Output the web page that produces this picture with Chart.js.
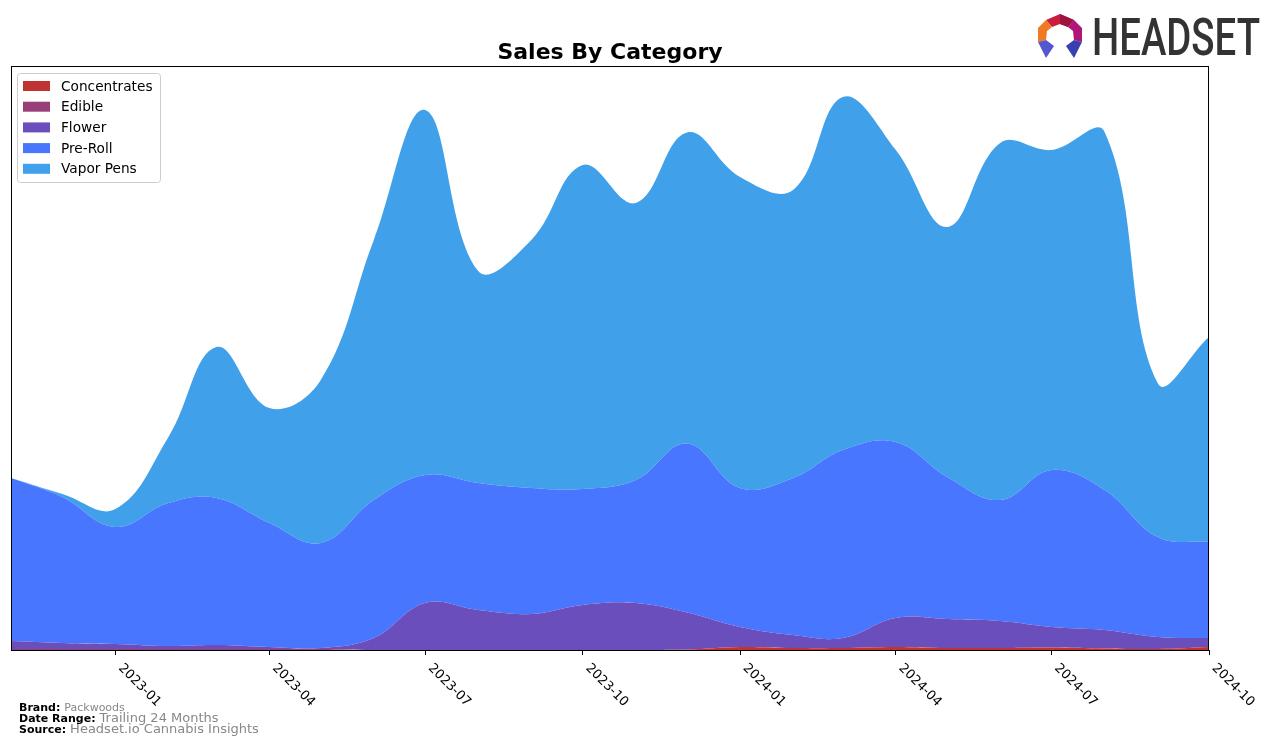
<!DOCTYPE html>
<html>
<head>
<meta charset="utf-8">
<script src="https://cdn.jsdelivr.net/npm/chart.js@4/dist/chart.umd.min.js"></script>
<style>
html,body{margin:0;padding:0;background:#fff;}
#wrap{width:1276px;height:746px;position:relative;}
</style>
</head>
<body>
<div id="wrap"><canvas id="c" width="1276" height="746"></canvas></div>
<script>
// ---- data (monthly, arbitrary sales units) ----
const months = ['2022-11','2022-12','2023-01','2023-02','2023-03','2023-04','2023-05','2023-06','2023-07','2023-08','2023-09','2023-10','2023-11','2023-12','2024-01','2024-02','2024-03','2024-04','2024-05','2024-06','2024-07','2024-08','2024-09','2024-10'];
const concentrates = [0,0,0,0,0,0,0,0,0,0,0,0,0,0.5,3,2,2,3,2,2,2.5,1.5,1,3];
const edible = [1,1,1,1,1,1,1,0,0,0,0,0,0,0,0,0,0,0,0,0,0,0,0,0];
const flower = [8,6,5,3,4,2,1,12,47,40,36,45,47,37,20,13,10,29,29,27,20.5,18.5,12,9];
const preRoll = [163,146,117,143,147,124,105,138,128,127,126,116,123,169,139,157,188,176,142,121,157,140,100,96];
const vaporPens = [0,3,18,66,151,115,163,260,365,212,248,324,277,311,311,288,353,292,250,357,320,358,154,205];
const tickLabels = ['2023-01','2023-04','2023-07','2023-10','2024-01','2024-04','2024-07','2024-10'];
const seriesNames = ['Concentrates','Edible','Flower','Pre-Roll','Vapor Pens'];
const seriesColors = ['#C13232','#983E78','#6A4EBC','#4876FF','#40A0EA'];

const dayOf = s => { const [y,m] = s.split('-').map(Number); return (Date.UTC(y,m-1,1) - Date.UTC(2022,10,1)) / 86400000; };
const seriesValues = [concentrates, edible, flower, preRoll, vaporPens];

const datasets = seriesNames.map((name,i)=>({
  label: name,
  data: months.map((m,j)=>({x: dayOf(m), y: seriesValues[i][j]})),
  backgroundColor: seriesColors[i],
  borderColor: seriesColors[i],
  borderWidth: 0,
  pointRadius: 0,
  tension: 0.4,
  fill: i === 0 ? 'origin' : '-1'
}));

const FONT = "'DejaVu Sans', sans-serif";

const decor = {
  id: 'decor',
  afterDatasetsDraw(chart){
    const {ctx, chartArea:a} = chart;
    ctx.save();
    ctx.strokeStyle = '#000'; ctx.lineWidth = 1;
    ctx.strokeRect(a.left+0.5, a.top+0.5, a.right-a.left-1, a.bottom-a.top);
    ctx.restore();
  },
  afterDraw(chart){
    const {ctx, chartArea:a, scales} = chart;
    ctx.save();
    // title
    ctx.fillStyle = '#000';
    ctx.font = "bold 22px " + FONT;
    ctx.textAlign = 'center'; ctx.textBaseline = 'alphabetic';
    ctx.fillText('Sales By Category', (a.left+a.right)/2, 59);
    // tick labels rotated
    ctx.font = "13px " + FONT;
    ctx.textAlign = 'left'; ctx.textBaseline = 'top';
    tickLabels.forEach(t=>{
      const x = scales.x.getPixelForValue(dayOf(t));
      ctx.save();
      ctx.translate(x+6, a.bottom+15);
      ctx.rotate(Math.PI/4);
      ctx.fillText(t, 0, -5);
      ctx.restore();
    });
    // legend
    const lx = 17, ly = 73, lw = 143, lh = 109;
    ctx.fillStyle = 'rgba(255,255,255,0.8)';
    ctx.strokeStyle = '#cccccc';
    ctx.beginPath();
    ctx.roundRect(lx+0.5, ly+0.5, lw, lh, 3);
    ctx.fill(); ctx.stroke();
    ctx.font = "13.7px " + FONT;
    ctx.textBaseline = 'middle';
    chart.data.datasets.forEach((d,i)=>{
      const cy = 86 + i*20.7;
      ctx.fillStyle = d.backgroundColor;
      ctx.fillRect(23, cy-5, 27, 10);
      ctx.fillStyle = '#000';
      ctx.fillText(d.label, 61, cy+1);
    });
    // footer
    ctx.textBaseline = 'alphabetic';
    const foot = [['Brand:', 'Packwoods', 711, 11],['Date Range:', 'Trailing 24 Months', 722, 13],['Source:', 'Headset.io Cannabis Insights', 733, 13]];
    foot.forEach(([k,v,y,s])=>{
      ctx.font = "bold 11px " + FONT;
      ctx.fillStyle = '#000';
      ctx.fillText(k, 19, y);
      const w = ctx.measureText(k).width;
      ctx.font = s + "px " + FONT;
      ctx.fillStyle = '#888';
      ctx.fillText(v, 19 + w + 4, y);
    });
    // logo icon
    const poly = (pts, c) => { ctx.fillStyle = c; ctx.beginPath(); pts.forEach((p,i)=> i? ctx.lineTo(p[0],p[1]) : ctx.moveTo(p[0],p[1])); ctx.closePath(); ctx.fill(); };
    poly([[1046,20],[1060,14],[1074,20],[1068,27],[1060,24],[1052,27]], '#C81E3C');
    poly([[1060,14],[1074,20],[1068,27],[1060,24]], '#9E1440');
    poly([[1074,20],[1082,28],[1082,42],[1074,40],[1073,31],[1068,27]], '#B0157A');
    poly([[1046,20],[1038,28],[1038,42],[1046,40],[1047,31],[1052,27]], '#F07A22');
    poly([[1038,42],[1046,40],[1054,46],[1046,58]], '#5457D0');
    poly([[1082,42],[1074,40],[1066,46],[1074,58]], '#3A3FB0');
    ctx.fillStyle = '#333';
    ctx.font = "500 52px Roboto, sans-serif";
    ctx.textAlign = 'left';
    ctx.fillText('HEADSET', 1092, 55, 168);
    ctx.restore();
  }
};

new Chart(document.getElementById('c'), {
  type: 'line',
  data: { datasets },
  options: {
    responsive: false,
    animation: false,
    layout: { padding: { left: 11, right: 67, top: 66, bottom: 0 } },
    plugins: { legend: { display: false }, title: { display: false }, tooltip: { enabled: false } },
    scales: {
      x: {
        type: 'linear', min: 0, max: 700,
        afterBuildTicks: s => { s.ticks = tickLabels.map(t => ({ value: dayOf(t) })); },
        afterFit: s => { s.height = 96; },
        ticks: { display: false },
        grid: { drawOnChartArea: false, drawTicks: true, tickLength: 5, color: '#000' },
        border: { display: true, color: '#000' }
      },
      y: { display: false, stacked: true, min: 0, max: 584 }
    }
  },
  plugins: [decor]
});
</script>
</body>
</html>
